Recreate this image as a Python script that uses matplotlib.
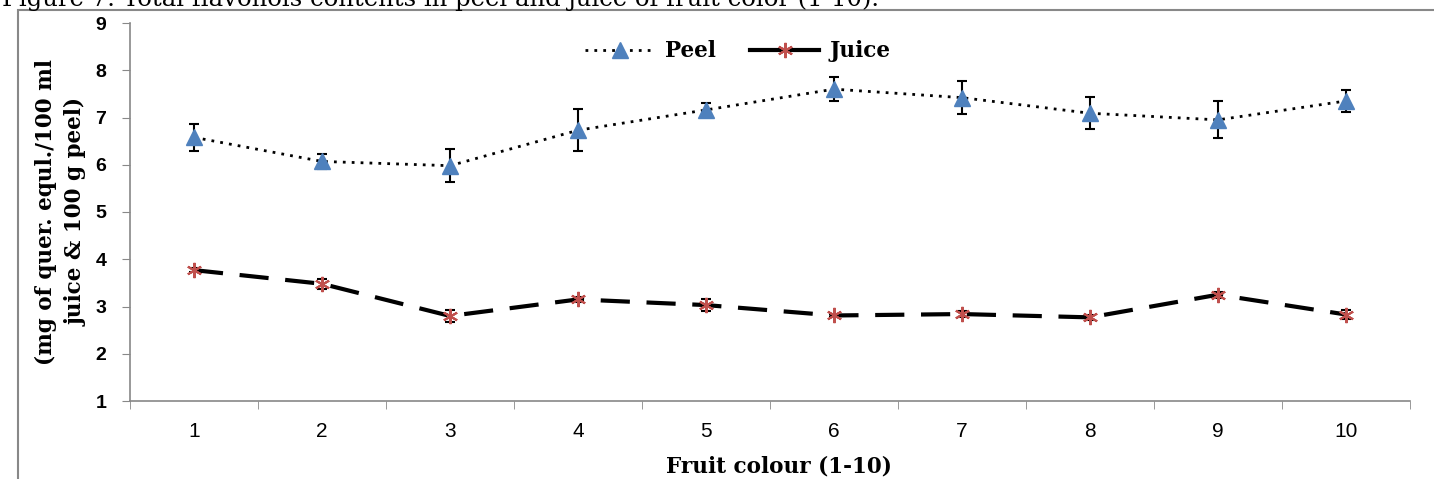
import numpy as np
import matplotlib.pyplot as plt
from matplotlib.patches import Rectangle
from matplotlib.lines import Line2D

# fruit colour classes
colour = np.arange(1, 11)

peel = [6.58, 6.07, 5.98, 6.73, 7.16, 7.60, 7.42, 7.09, 6.95, 7.35]
peel_err = [0.29, 0.16, 0.35, 0.44, 0.15, 0.26, 0.35, 0.34, 0.39, 0.24]

juice = [3.77, 3.48, 2.80, 3.15, 3.03, 2.81, 2.84, 2.77, 3.25, 2.83]
juice_err = [0.04, 0.10, 0.13, 0.05, 0.13, 0.04, 0.07, 0.05, 0.06, 0.09]

title = "Figure 7: Total flavonols contents in peel and juice of fruit color (1-10)."

fig = plt.figure(figsize=(14.34, 4.79), dpi=100)
ax = fig.add_axes([130/1434, 1-401/479, 1280/1434, (401-23)/479])

serif = ['DejaVu Serif']
sans = ['Liberation Sans', 'DejaVu Sans']
blue = '#4F81BD'
red = '#C0504D'

# error bars first, lines on top
ax.errorbar(colour, peel, yerr=peel_err, fmt='none', ecolor='black',
            elinewidth=1.5, capsize=3.5, capthick=1.5)
ax.errorbar(colour, juice, yerr=juice_err, fmt='none', ecolor='black',
            elinewidth=1.5, capsize=3.5, capthick=1.5)
ax.plot(colour, peel, color='black', ls=(0, (1, 2.2)), lw=2,
        marker='^', ms=11, mfc=blue, mec=blue)
ax.plot(colour, juice, color='black', ls=(0, (7, 4)), lw=3,
        marker=(6, 2, 0), ms=11, mec=red, mew=1.5)

ax.set_xlim(0.5, 10.5)
ax.set_ylim(1, 9)
ax.set_yticks(range(1, 10))
ax.set_xticks(colour)
ax.set_xticks(np.arange(0.5, 11, 1), minor=True)
ax.tick_params(axis='x', which='major', length=0, pad=15, labelsize=15)
ax.tick_params(axis='x', which='minor', length=6, color='#888888', direction='out')
ax.tick_params(axis='y', length=6, color='#888888', direction='out', labelsize=14, pad=11)
for lab in ax.get_yticklabels():
    lab.set_fontweight('bold')
    lab.set_family(sans)
for lab in ax.get_xticklabels():
    lab.set_family(sans)

for s in ['top', 'right']:
    ax.spines[s].set_visible(False)
for s in ['left', 'bottom']:
    ax.spines[s].set_color('#888888')
    ax.spines[s].set_linewidth(1.2)

ax.set_xlabel('Fruit colour (1-10)', fontsize=15.5, fontweight='bold', family=serif)
ax.xaxis.set_label_coords(0.507, -0.145)
ax.xaxis.label.set_va('top')
ax.set_ylabel('(mg of quer. equl./100 ml\njuice & 100 g peel)', fontsize=15.5,
              fontweight='bold', family=serif, labelpad=6, linespacing=1.5)

handles = [Line2D([], [], color='black', ls=(0, (1, 2.2)), lw=2, marker='^', ms=11,
                  mfc=blue, mec=blue),
           Line2D([], [], color='black', ls='-', lw=3, marker=(6, 2, 0), ms=11,
                  mec=red, mew=1.5)]
ax.legend(handles, ['Peel', 'Juice'], loc='upper center', bbox_to_anchor=(0.475, 1.005),
          ncol=2, frameon=False, prop={'family': serif, 'weight': 'bold', 'size': 15.5},
          handlelength=3.2, columnspacing=1.6, handletextpad=0.5)

# outer chart border
fig.patches.append(Rectangle((18/1434, -0.01), 1.0, 1-10/479+0.01, transform=fig.transFigure,
                             fill=False, edgecolor='#888888', lw=1.5))
fig.text(2/1434, 1-6/479, title, fontsize=17.5, family=serif, va='baseline')

fig.savefig('out.png', dpi=100)
